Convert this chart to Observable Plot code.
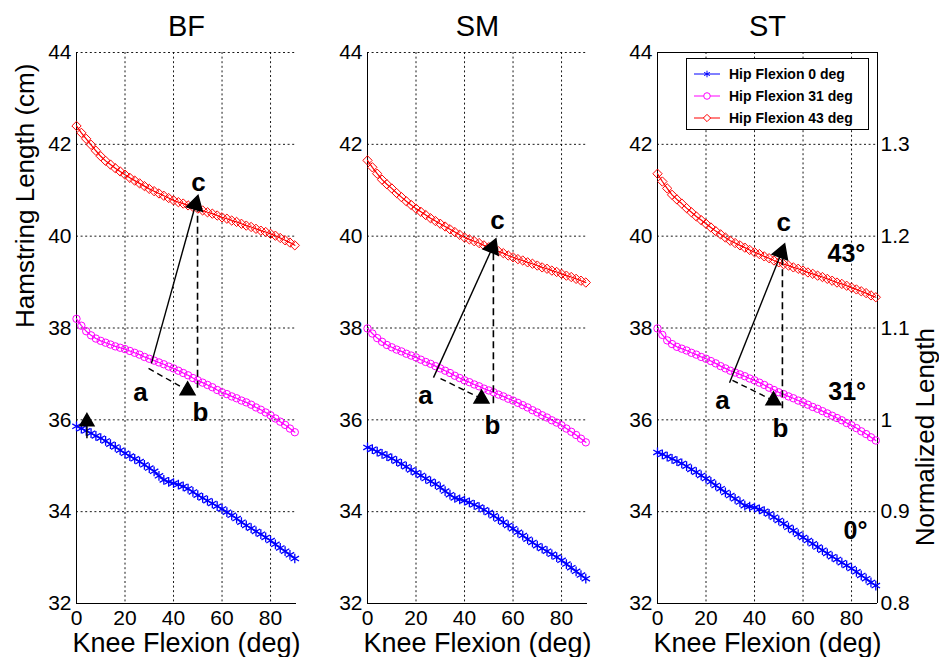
<!DOCTYPE html>
<html><head><meta charset="utf-8">
<script src="https://cdn.jsdelivr.net/npm/d3@7"></script>
<script src="https://cdn.jsdelivr.net/npm/@observablehq/plot@0.6"></script>
<style>
body{margin:0;background:#fff;}
#wrap{position:relative;width:939px;height:657px;display:flex;font-family:"Liberation Sans",Arial,Helvetica,sans-serif;}
#wrap svg{flex:none;display:block;}
#legend{position:absolute;left:686px;top:58px;width:181px;height:70px;border:1px solid #000;background:#fff;font-weight:bold;font-size:14px;}
#legend .row{position:absolute;left:0;height:20px;display:flex;align-items:center;}
#legend svg{margin-left:5px;margin-right:9px;}
</style></head><body><div id="wrap"><div id="legend"></div></div>
<script>
// ---------- data ----------
const knee = [0,2,4,6,8,10,12,14,16,18,20,22,24,26,28,30,32,34,36,38,40,42,44,46,48,50,52,54,56,58,60,62,64,66,68,70,72,74,76,78,80,82,84,86,88,90];
const seriesNames = ["Hip Flexion 0 deg","Hip Flexion 31 deg","Hip Flexion 43 deg"];
const seriesColors = ["#0000ff","#ff00ff","#ff0000"];
const seriesSymbols = ["asterisk","circle","diamond2"];

const bfHip0  = [35.86,35.81,35.76,35.71,35.65,35.60,35.54,35.47,35.41,35.34,35.27,35.21,35.15,35.09,35.02,34.95,34.88,34.78,34.69,34.65,34.62,34.59,34.55,34.50,34.43,34.36,34.30,34.24,34.18,34.12,34.06,33.99,33.92,33.85,33.77,33.70,33.64,33.57,33.51,33.44,33.37,33.29,33.21,33.14,33.06,32.98];
const bfHip31 = [38.20,38.05,37.93,37.84,37.77,37.72,37.68,37.64,37.60,37.57,37.54,37.50,37.46,37.42,37.37,37.33,37.29,37.25,37.21,37.16,37.12,37.07,37.02,36.97,36.91,36.86,36.81,36.76,36.71,36.65,36.60,36.56,36.51,36.47,36.42,36.38,36.33,36.27,36.22,36.16,36.10,36.03,35.96,35.89,35.81,35.73];
const bfHip43 = [42.40,42.25,42.12,41.99,41.86,41.74,41.64,41.56,41.48,41.41,41.34,41.27,41.21,41.15,41.09,41.03,40.98,40.93,40.88,40.83,40.78,40.74,40.71,40.67,40.64,40.60,40.56,40.52,40.49,40.45,40.41,40.38,40.34,40.31,40.27,40.23,40.20,40.16,40.12,40.09,40.05,40.01,39.96,39.91,39.86,39.80];

const smHip0  = [35.40,35.36,35.31,35.26,35.21,35.16,35.10,35.04,34.98,34.91,34.85,34.79,34.72,34.66,34.60,34.53,34.45,34.37,34.30,34.27,34.24,34.20,34.15,34.10,34.04,33.98,33.91,33.84,33.77,33.70,33.63,33.55,33.48,33.40,33.33,33.26,33.20,33.14,33.07,33.01,32.94,32.86,32.78,32.70,32.62,32.54];
const smHip31 = [37.99,37.88,37.78,37.70,37.63,37.58,37.53,37.49,37.44,37.40,37.36,37.31,37.26,37.22,37.17,37.12,37.07,37.02,36.96,36.91,36.86,36.82,36.77,36.73,36.68,36.64,36.60,36.55,36.51,36.46,36.42,36.37,36.32,36.27,36.21,36.16,36.10,36.05,35.99,35.94,35.88,35.81,35.74,35.67,35.59,35.51];
const smHip43 = [41.65,41.50,41.36,41.23,41.13,41.04,40.94,40.85,40.76,40.68,40.60,40.53,40.46,40.39,40.33,40.27,40.21,40.15,40.09,40.03,39.97,39.93,39.89,39.85,39.80,39.76,39.72,39.67,39.63,39.58,39.54,39.50,39.47,39.43,39.40,39.36,39.32,39.29,39.25,39.22,39.18,39.14,39.11,39.07,39.03,38.99];

const stHip0  = [35.29,35.25,35.20,35.15,35.10,35.05,34.99,34.92,34.86,34.79,34.72,34.65,34.57,34.50,34.42,34.35,34.28,34.21,34.13,34.11,34.09,34.05,34.01,33.95,33.88,33.81,33.74,33.66,33.59,33.51,33.44,33.37,33.30,33.23,33.16,33.09,33.02,32.96,32.89,32.83,32.76,32.69,32.61,32.54,32.46,32.39];
const stHip31 = [37.99,37.85,37.73,37.65,37.59,37.55,37.51,37.46,37.42,37.37,37.33,37.28,37.23,37.17,37.12,37.07,37.03,36.99,36.95,36.90,36.86,36.81,36.76,36.70,36.65,36.60,36.56,36.51,36.47,36.42,36.38,36.33,36.28,36.24,36.19,36.14,36.09,36.04,35.99,35.93,35.88,35.82,35.75,35.69,35.62,35.55];
const stHip43 = [41.36,41.19,41.04,40.90,40.80,40.71,40.61,40.52,40.43,40.35,40.27,40.19,40.11,40.04,39.97,39.90,39.85,39.80,39.75,39.70,39.65,39.61,39.56,39.52,39.47,39.43,39.39,39.36,39.32,39.29,39.25,39.21,39.18,39.14,39.11,39.07,39.03,38.99,38.96,38.92,38.88,38.84,38.80,38.76,38.71,38.67];

const xDomain = [0, 90.7];
const yDomain = [32, 44];
const xTicks = [0,20,40,60,80];
const xGrid = [20,40,60,80];
const yTicks = [32,34,36,38,40,42,44];
const normTicks = [0.8,0.9,1.0,1.1,1.2,1.3];
const normLabels = ["0.8","0.9","1","1.1","1.2","1.3"];
const normRefLength = 36, normSpan = 20; // 1.0 ↔ 36 cm, 0.1 ↔ 2 cm

// annotation points [knee, length]
const annBF = {a:[30.9,37.23], a2:[29.7,37.12], b:[45.8,36.64], c:[49.1,40.69], vx:49.9, vy:[36.70,40.56],
  la:[26.4,36.6], lb:[51.1,36.16], lc:[50.3,41.17], rotC:15};
const annSM = {a:[27.2,36.92], a2:[30.1,36.90], b:[47.0,36.46], c:[51.5,39.75], vx:51.9, vy:[36.36,39.69],
  la:[23.9,36.53], lb:[51.5,35.88], lc:[53.6,40.34], rotC:22};
const annST = {a:[29.7,36.81], a2:[30.9,36.86], b:[47.8,36.42], c:[51.1,39.64], vx:51.5, vy:[36.25,39.58],
  la:[26.8,36.42], lb:[50.7,35.81], lc:[52.0,40.30], rotC:20};
const smallArrowBF = {x:4.3, y1:35.60, y2:35.96};
const degLabels = [{t:"43°", x:77.9, y:39.61},{t:"31°", x:78.2, y:36.60},{t:"0°", x:81.6, y:33.57}];

// ---------- build ----------
function rowsOf(vals){
  const out = [];
  vals.forEach((arr, s) => knee.forEach((k, i) => out.push({knee:k, len:arr[i], series:seriesNames[s]})));
  return out;
}
const FONT = '"Liberation Sans",Arial,Helvetica,sans-serif';
const GRID = {stroke:"#000", strokeOpacity:0.9, strokeDasharray:"2,2.6", strokeWidth:1};
const markerR = [4.6, 3.7, 4.2];
const markerW = [1.3, 1, 1];

function panel({title, vals, ann, width, marginLeft, marginRight, last, first}){
  const rows = rowsOf(vals);
  const marks = [
    Plot.gridX({ticks:xGrid, ...GRID}),
    Plot.gridY({ticks: last ? yTicks.slice(1,-1) : yTicks.slice(1), ...GRID}),
    Plot.ruleX([xDomain[0]], {stroke:"#000", strokeWidth:1}),
    Plot.ruleY([yDomain[0]], {stroke:"#000", strokeWidth:1}),
  ];
  if (last) marks.push(Plot.ruleX([xDomain[1]], {stroke:"#000"}), Plot.ruleY([yDomain[1]], {stroke:"#000"}));
  marks.push(
    Plot.axisX({ticks:xTicks, tickSize:0, tickPadding:7, label:null}),
    Plot.axisY({ticks:yTicks, tickSize:0, tickPadding:5, label:null}),
    Plot.line(rows, {x:"knee", y:"len", z:"series", stroke:"series", strokeWidth:1.2})
  );
  seriesNames.forEach((name, s) => {
    marks.push(Plot.dot(rows.filter(d => d.series === name), {x:"knee", y:"len", stroke:"series", symbol:"series",
      r: markerR[s], fill:"none", strokeWidth: markerW[s]}));
  });
  marks.push(
    // annotation arrows
    Plot.link([ann], {x1:d=>d.a[0], y1:d=>d.a[1], x2:d=>d.c[0], y2:d=>d.c[1], stroke:"#000", strokeWidth:1.4}),
    Plot.link([ann], {x1:d=>d.a2[0], y1:d=>d.a2[1], x2:d=>d.b[0], y2:d=>d.b[1], stroke:"#000", strokeWidth:1.4, strokeDasharray:"6,4"}),
    Plot.link([ann], {x1:d=>d.vx, x2:d=>d.vx, y1:d=>d.vy[0], y2:d=>d.vy[1], stroke:"#000", strokeWidth:1.6, strokeDasharray:"7,4"}),
    Plot.dot([ann], {x:d=>d.c[0], y:d=>d.c[1], symbol:"triangle", r:6, fill:"#000", stroke:"#000", rotate:d=>d.rotC}),
    Plot.dot([ann], {x:d=>d.b[0], y:d=>d.b[1], symbol:"triangle", r:5.5, fill:"#000", stroke:"#000"}),
    Plot.text([["a",ann.la],["b",ann.lb],["c",ann.lc]], {x:d=>d[1][0], y:d=>d[1][1], text:d=>d[0], fontSize:26, fontWeight:"bold", lineAnchor:"middle", fill:"#000"}),
    // title and axis label
    Plot.text([title], {frameAnchor:"top", text:d=>d, dy:-37, lineAnchor:"top", fontSize:29, fill:"#000"}),
    Plot.text(["Knee Flexion (deg)"], {frameAnchor:"bottom", text:d=>d, dy:29, lineAnchor:"top", fontSize:27, fill:"#000"})
  );
  if (first) {
    marks.push(
      Plot.link([smallArrowBF], {x1:d=>d.x, x2:d=>d.x, y1:d=>d.y1, y2:d=>d.y2, stroke:"#000", strokeWidth:1.5}),
      Plot.dot([smallArrowBF], {x:d=>d.x, y:d=>d.y2, symbol:"triangle", r:5.2, fill:"#000", stroke:"#000"}),
      Plot.text(["Hamstring Length (cm)"], {frameAnchor:"left", text:d=>d, dx:-51, rotate:-90, lineAnchor:"middle", fontSize:26, fill:"#000"})
    );
  }
  if (last) {
    const normY = normTicks.map(n => normRefLength + (n - 1) * normSpan);
    const lab = new Map(normY.map((y, i) => [+y.toFixed(6), normLabels[i]]));
    marks.push(
      Plot.axisY({anchor:"right", ticks:normY, tickFormat:d => lab.get(+d.toFixed(6)), tickSize:0, tickPadding:3, label:null}),
      Plot.text(["Normalized Length"], {frameAnchor:"right", text:d=>d, dx:48, rotate:-90, lineAnchor:"middle", fontSize:26, fill:"#000"}),
      Plot.text(degLabels, {x:"x", y:"y", text:"t", fontSize:25, fontWeight:"bold", lineAnchor:"middle", fill:"#000"})
    );
  }
  return Plot.plot({
    width, height:657, marginLeft, marginRight, marginTop:52, marginBottom:54,
    x:{domain:xDomain}, y:{domain:yDomain},
    color:{domain:seriesNames, range:seriesColors},
    symbol:{domain:seriesNames, range:seriesSymbols},
    style:{fontFamily:FONT, fontSize:"21px", background:"transparent", overflow:"visible", color:"#000"},
    marks
  });
}

const wrap = document.getElementById("wrap");
wrap.appendChild(panel({title:"BF", vals:[bfHip0,bfHip31,bfHip43], ann:annBF, width:300, marginLeft:76, marginRight:4, first:true}));
wrap.appendChild(panel({title:"SM", vals:[smHip0,smHip31,smHip43], ann:annSM, width:290, marginLeft:67, marginRight:3}));
wrap.appendChild(panel({title:"ST", vals:[stHip0,stHip31,stHip43], ann:annST, width:349, marginLeft:67, marginRight:62, last:true}));

// legend
const legend = document.getElementById("legend");
const symFns = {asterisk:d3.symbolAsterisk, circle:d3.symbolCircle, diamond2:d3.symbolDiamond2};
seriesNames.forEach((name, i) => {
  const row = document.createElement("div");
  row.className = "row";
  row.style.top = (5 + i * 22) + "px";
  const svg = d3.create("svg").attr("width", 28).attr("height", 20);
  svg.append("line").attr("x1", 2).attr("x2", 28).attr("y1", 10).attr("y2", 10).attr("stroke", seriesColors[i]).attr("stroke-width", 1);
  svg.append("path").attr("transform", "translate(15,10)")
    .attr("d", d3.symbol(symFns[seriesSymbols[i]], i === 0 ? 30 : 34)())
    .attr("fill", i === 0 ? seriesColors[i] : "#fff").attr("stroke", seriesColors[i]).attr("stroke-width", 1);
  row.appendChild(svg.node());
  const span = document.createElement("span");
  span.textContent = name;
  row.appendChild(span);
  legend.appendChild(row);
});
</script></body></html>
